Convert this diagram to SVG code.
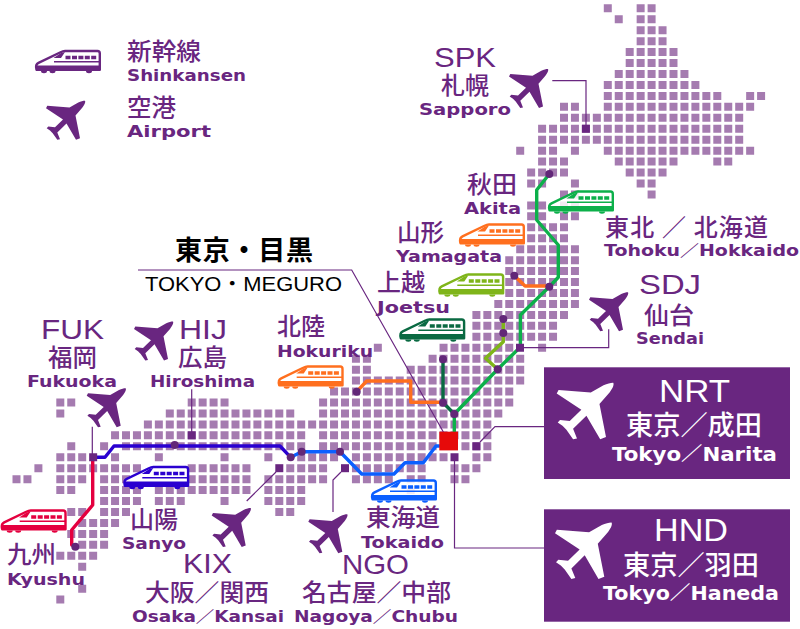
<svg xmlns="http://www.w3.org/2000/svg" width="800" height="629" viewBox="0 0 800 629">
<style>
text{fill:#692680}
.j{font-family:"Noto Sans CJK JP",sans-serif;font-size:24px;font-weight:500}
.l{font-family:"DejaVu Sans","Noto Sans CJK JP",sans-serif;font-size:16px;font-weight:700}
.c{font-family:"Liberation Sans","Noto Sans CJK JP",sans-serif;font-size:28px}
text.w{fill:#fff}
text.k{fill:#000}
.lead{fill:none;stroke:#692680;stroke-width:1.2}
.rail{fill:none;stroke-width:3.4;stroke-linejoin:round;stroke-linecap:round}
.st{fill:#622778}
.sq{fill:#692680}
</style>
<defs>
<path id="plane" d="M39 .3C40 2 37.6 5.6 36 7.6L29.5 15 34 37.7 30 39.3 20.5 23 11.3 32 14 38.7 11.3 39.3 6.7 32.7 4 30 .7 27.7 2.3 26 9 26.7 17 19 0 7.7 1.3 5.3 23.5 7 32.3 2C35 .8 37.6 .2 39 .3Z"/>
<g id="train">
<path d="M1.5 20.3C.6 17 1 14.6 3.5 13.4L25 3C27 2 28.5 1.5 30 1.5H62.5C64 1.5 64.8 2.4 64.8 4V20.3Z" fill="#fff" fill-opacity=".85" stroke="currentColor" stroke-width="2.4" stroke-linejoin="round"/>
<path d="M1.5 20.3C1 18.6 1 17.2 1.4 16H65V20.3ZM19 11.4H65V13H19ZM30 2.5 26 8.6H18.5L26 3.6Z" fill="currentColor"/>
<path d="M30.5 6.3h5v3.4h-5zM37 6.3h5v3.4h-5zM43.4 6.3h5v3.4h-5zM49.8 6.3h5v3.4h-5zM56.2 6.3h5v3.4h-5z" fill="currentColor"/>
<path d="M6 21.5a3 2.2 0 0 0 6 0zM14.5 21.5a3 2.2 0 0 0 6 0zM51 21.5a3 2.2 0 0 0 6 0z" fill="currentColor"/>
</g>
</defs>
<path id="map" transform="translate(1.55 8.3) scale(10.95)" fill="none" stroke="#a57bb0" stroke-width=".73" stroke-dasharray=".73 .27" d="M55 0h1M58 0h2M56 1h1M58 1h2M58 2h3M58 3h3M57 4h5M57 5h5M56 6h7M55 7h9M55 8h11M68 8h2M51 9h2M55 9h14M51 10h17M49 11h19M49 12h19M47 13h1M49 13h2M52 13h1M55 13h14M49 14h3M56 14h6M65 14h2M48 15h4M57 15h4M48 16h2M52 16h1M58 16h2M51 17h2M59 17h1M48 18h2M51 18h2M48 19h2M51 19h2M48 20h4M48 21h4M47 22h6M46 23h7M46 24h7M46 25h7M46 26h7M45 27h8M43 28h9M43 29h8M43 30h8M34 31h1M40 31h7M49 31h1M32 32h2M39 32h9M32 33h2M37 33h11M32 34h16M30 35h17M29 36h18M5 36h2M17 36h4M5 37h1M15 37h12M29 37h17M13 38h32M10 39h18M29 39h16M6 40h1M9 40h1M11 40h17M29 40h11M42 40h3M5 41h3M10 41h1M14 41h1M20 41h1M24 41h1M27 41h4M32 41h9M43 41h2M3 42h1M5 42h8M17 42h6M26 42h4M32 42h7M41 42h3M1 43h2M5 43h3M9 43h3M17 43h6M24 43h6M32 43h4M37 43h2M41 43h2M5 44h2M9 44h4M14 44h9M24 44h4M37 44h1M9 45h4M14 45h3M20 45h1M24 45h4M6 46h2M9 46h3M25 46h2M7 47h4M6 48h4M7 49h3M5 50h4M7 51h1M7 53h1M5 54h1"/>
<g id="connectors">
<path class="lead" d="M552.3 80.7H586V125M92.3 426.7V454M191.7 389.3V432M246.7 501 276 472M341 472 333 480V512M480 442 495 426.7H544M454.5 461V548H544M524 347.7H608.7V329.3M138 270H351.7L448.3 440.7"/>
<path class="rail" stroke="#0cb04a" d="M454.3 432V414L497.7 369.3 520.4 347V315L549.3 286.7 558.3 277.3V245L536.7 220V190L549.3 174"/>
<path class="rail" stroke="#ff6f1e" d="M514.3 275.7 525 286H549.3M356.7 391.7 366.7 381H410.7V402.3H443"/>
<path class="rail" stroke="#7fb51a" d="M503.3 319V341.7L485.5 358.3 497.7 369.3"/>
<path class="rail" stroke="#0a6a42" d="M443 359.3V402.5L454.3 414"/>
<path class="rail" stroke="#0b5fff" d="M439.3 446H436L423.3 462.7H405L394 474H361.7L340 451.7H301.7L290.7 457.3"/>
<path class="rail" stroke="#2a00d0" d="M290.7 457.3 280 446H114L105 457.3H92.7"/>
<path class="rail" stroke="#e4003f" d="M92.7 457.3V505L71.7 530V545"/>
</g>
<g id="stations">
<circle class="st" cx="549.3" cy="174" r="4"/><circle class="st" cx="549.3" cy="286.7" r="4"/><circle class="st" cx="514.3" cy="275.7" r="4"/><circle class="st" cx="503.3" cy="319" r="4"/><circle class="st" cx="503.3" cy="333" r="4"/><circle class="st" cx="497.7" cy="369.3" r="4"/><circle class="st" cx="443" cy="359.3" r="4"/><circle class="st" cx="443" cy="402.7" r="4"/><circle class="st" cx="454.3" cy="414" r="4"/><circle class="st" cx="356.7" cy="391.7" r="4"/><circle class="st" cx="340" cy="451.7" r="4"/><circle class="st" cx="301.7" cy="451.7" r="4"/><circle class="st" cx="290.7" cy="457.3" r="4"/><circle class="st" cx="174.7" cy="445" r="4"/><circle class="st" cx="75.3" cy="546.7" r="4"/>
<rect class="sq" x="581.9" y="124.75" width="8" height="8"/><rect class="sq" x="516" y="343.75" width="8" height="8"/><rect class="sq" x="89.15" y="453.25" width="8" height="8"/><rect class="sq" x="187.7" y="431.35" width="8" height="8"/><rect class="sq" x="275.3" y="464.2" width="8" height="8"/><rect class="sq" x="341" y="464.2" width="8" height="8"/><rect class="sq" x="472.4" y="442.3" width="8" height="8"/><rect class="sq" x="450.5" y="453.25" width="8" height="8"/>
<rect id="tokyo-sq" x="439.3" y="431.7" width="18.7" height="18.7" fill="#e60a0a"/>
</g>
<g id="legend-train" style="color:#692680"><use href="#train" x="35" y="49.5"/><text class="j" x="127" y="60" textLength="74" lengthAdjust="spacingAndGlyphs">新幹線</text><text class="l" x="127" y="81" textLength="119" lengthAdjust="spacingAndGlyphs">Shinkansen</text></g>
<g id="legend-airport" fill="#692680"><use href="#plane" x="46" y="100.5"/><text class="j" x="127" y="116" textLength="49" lengthAdjust="spacingAndGlyphs">空港</text><text class="l" x="127" y="137" textLength="84" lengthAdjust="spacingAndGlyphs">Airport</text></g>
<g id="spk" fill="#692680"><use href="#plane" x="509" y="68.7"/><text class="c" x="434" y="67" textLength="62" lengthAdjust="spacingAndGlyphs">SPK</text><text class="j" x="441" y="94" textLength="48" lengthAdjust="spacingAndGlyphs">札幌</text><text class="l" x="419" y="115" textLength="92" lengthAdjust="spacingAndGlyphs">Sapporo</text></g>
<g id="tohoku" style="color:#0cb04a"><use href="#train" x="548" y="190"/><text class="j" x="605" y="236" textLength="163" lengthAdjust="spacing">東北 ／ 北海道</text><text class="l" x="604" y="256" textLength="195" lengthAdjust="spacingAndGlyphs">Tohoku／Hokkaido</text></g>
<g id="akita"><text class="j" x="467" y="193" textLength="50" lengthAdjust="spacingAndGlyphs">秋田</text><text class="l" x="464" y="214" textLength="57" lengthAdjust="spacingAndGlyphs">Akita</text></g>
<g id="yamagata" style="color:#ff6f1e"><use href="#train" x="459" y="223"/><text class="j" x="397" y="241" textLength="47" lengthAdjust="spacingAndGlyphs">山形</text><text class="l" x="396" y="261.7" textLength="106" lengthAdjust="spacingAndGlyphs">Yamagata</text></g>
<g id="joetsu" style="color:#7fb51a"><use href="#train" x="438.3" y="273"/><text class="j" x="377" y="291" textLength="48" lengthAdjust="spacingAndGlyphs">上越</text><text class="l" x="377" y="313" textLength="73" lengthAdjust="spacingAndGlyphs">Joetsu</text></g>
<g id="train-darkgreen" style="color:#0a6a42"><use href="#train" x="399.3" y="318"/></g>
<g id="sdj" fill="#692680"><use href="#plane" x="589" y="292"/><text class="c" x="639" y="294" textLength="62" lengthAdjust="spacingAndGlyphs">SDJ</text><text class="j" x="644" y="324" textLength="50" lengthAdjust="spacingAndGlyphs">仙台</text><text class="l" x="636" y="344" textLength="68" lengthAdjust="spacingAndGlyphs">Sendai</text></g>
<g id="tokyo-meguro"><text class="j k" x="175" y="260" style="font-size:27px;font-weight:700" textLength="138" lengthAdjust="spacing">東京・目黒</text><text class="c k" x="145" y="290.5" style="font-size:20px" textLength="197" lengthAdjust="spacingAndGlyphs">TOKYO・MEGURO</text></g>
<g id="fuk" fill="#692680"><use href="#plane" x="86.7" y="388"/><text class="c" x="41" y="338.7" textLength="63" lengthAdjust="spacingAndGlyphs">FUK</text><text class="j" x="48" y="366" textLength="49" lengthAdjust="spacingAndGlyphs">福岡</text><text class="l" x="27" y="386.7" textLength="90" lengthAdjust="spacingAndGlyphs">Fukuoka</text></g>
<g id="hij" fill="#692680"><use href="#plane" x="134" y="321.3"/><text class="c" x="179" y="338.7" textLength="48" lengthAdjust="spacingAndGlyphs">HIJ</text><text class="j" x="178" y="366" textLength="49" lengthAdjust="spacingAndGlyphs">広島</text><text class="l" x="150" y="386.7" textLength="105" lengthAdjust="spacingAndGlyphs">Hiroshima</text></g>
<g id="hokuriku" style="color:#ff6f1e"><use href="#train" x="277.7" y="365"/><text class="j" x="277" y="335" textLength="48" lengthAdjust="spacingAndGlyphs">北陸</text><text class="l" x="277" y="357" textLength="96" lengthAdjust="spacingAndGlyphs">Hokuriku</text></g>
<g id="tokaido" style="color:#0b5fff"><use href="#train" x="371" y="479"/><text class="j" x="366" y="526" textLength="74" lengthAdjust="spacingAndGlyphs">東海道</text><text class="l" x="361" y="547.7" textLength="83" lengthAdjust="spacingAndGlyphs">Tokaido</text></g>
<g id="sanyo" style="color:#2a00d0"><use href="#train" x="123.3" y="465.5"/><text class="j" x="130" y="528" textLength="48" lengthAdjust="spacingAndGlyphs">山陽</text><text class="l" x="122" y="549" textLength="64" lengthAdjust="spacingAndGlyphs">Sanyo</text></g>
<g id="kyushu" style="color:#e4003f"><use href="#train" x=".7" y="509"/><text class="j" x="7" y="563" textLength="49" lengthAdjust="spacingAndGlyphs">九州</text><text class="l" x="7" y="585" textLength="78" lengthAdjust="spacingAndGlyphs">Kyushu</text></g>
<g id="kix" fill="#692680"><use href="#plane" x="211.7" y="507.7"/><text class="c" x="183" y="573" textLength="49" lengthAdjust="spacingAndGlyphs">KIX</text><text class="j" x="145" y="601" textLength="124" lengthAdjust="spacingAndGlyphs">大阪／関西</text><text class="l" x="132" y="621.7" textLength="152" lengthAdjust="spacingAndGlyphs">Osaka／Kansai</text></g>
<g id="ngo" fill="#692680"><use href="#plane" x="308.3" y="514"/><text class="c" x="342" y="573.7" textLength="67" lengthAdjust="spacingAndGlyphs">NGO</text><text class="j" x="302" y="601" textLength="149" lengthAdjust="spacingAndGlyphs">名古屋／中部</text><text class="l" x="294" y="621.7" textLength="164" lengthAdjust="spacingAndGlyphs">Nagoya／Chubu</text></g>
<g id="nrt"><rect x="544" y="367.3" width="246" height="111.7" fill="#692680"/><use href="#plane" fill="#fff" transform="translate(556.7 382.3) scale(1.45)"/><text class="c w" x="659" y="402" style="font-size:32px" textLength="71" lengthAdjust="spacingAndGlyphs">NRT</text><text class="j w" x="626" y="435" style="font-size:27px" textLength="136" lengthAdjust="spacingAndGlyphs">東京／成田</text><text class="l w" x="612" y="460.7" style="font-size:19px" textLength="165" lengthAdjust="spacingAndGlyphs">Tokyo／Narita</text></g>
<g id="hnd"><rect x="544" y="509.3" width="246" height="112.4" fill="#692680"/><use href="#plane" fill="#fff" transform="translate(555 522) scale(1.45)"/><text class="c w" x="654" y="541" style="font-size:32px" textLength="74" lengthAdjust="spacingAndGlyphs">HND</text><text class="j w" x="623" y="575" style="font-size:27px" textLength="136" lengthAdjust="spacingAndGlyphs">東京／羽田</text><text class="l w" x="603" y="600" style="font-size:19px" textLength="176" lengthAdjust="spacingAndGlyphs">Tokyo／Haneda</text></g>
</svg>
